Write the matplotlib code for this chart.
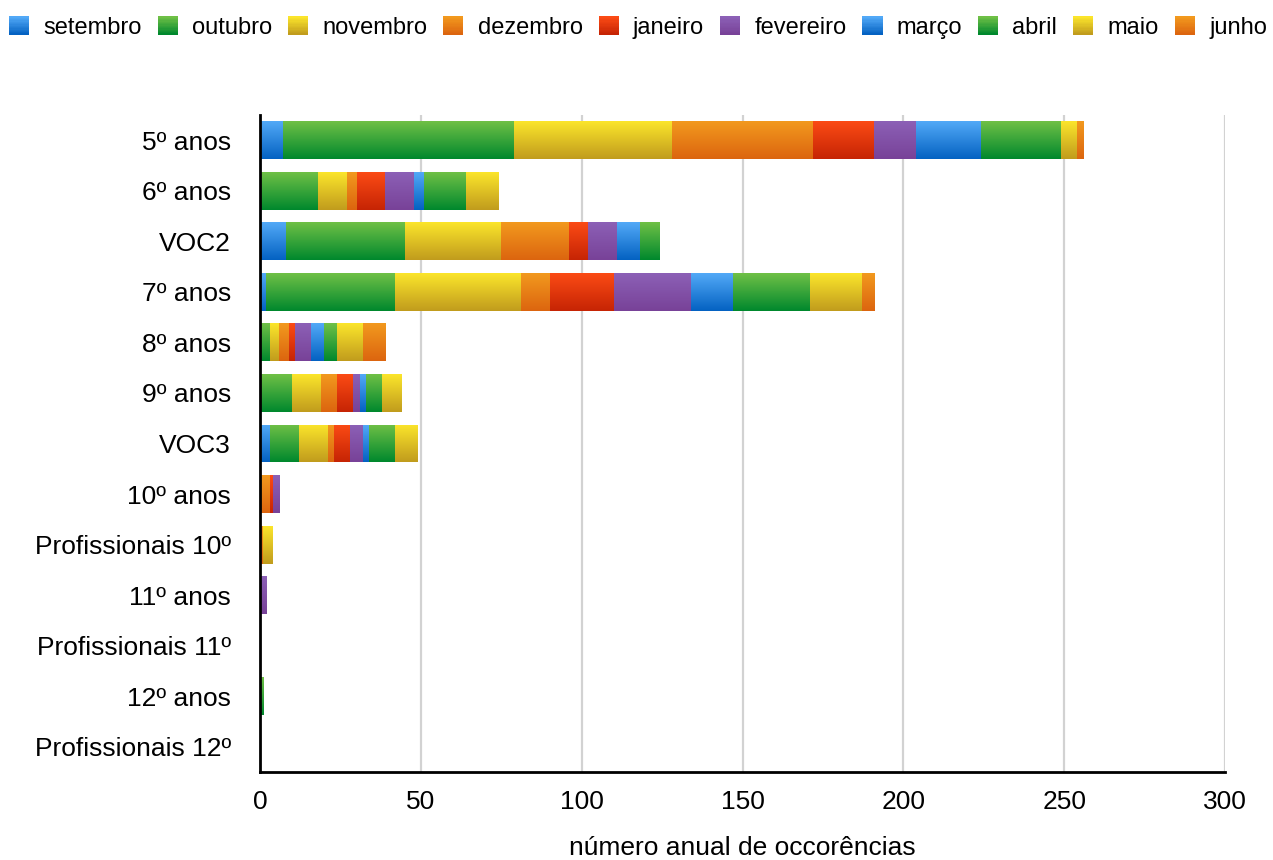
import numpy as np
import matplotlib
matplotlib.use("Agg")
import matplotlib.pyplot as plt
from matplotlib.patches import Rectangle
from matplotlib.legend_handler import HandlerBase
from matplotlib.colors import LinearSegmentedColormap, to_rgb

plt.rcParams['font.family'] = ['Liberation Sans', 'DejaVu Sans']

categories = ["5º anos", "6º anos", "VOC2", "7º anos", "8º anos", "9º anos", "VOC3",
              "10º anos", "Profissionais 10º", "11º anos", "Profissionais 11º",
              "12º anos", "Profissionais 12º"]
months = ["setembro", "outubro", "novembro", "dezembro", "janeiro", "fevereiro",
          "março", "abril", "maio", "junho"]

setembro  = [7, 0, 8, 2, 0, 0, 3, 0, 0, 0, 0, 0, 0]
outubro   = [72, 18, 37, 40, 3, 10, 9, 0, 0, 0, 0, 0, 0]
novembro  = [49, 9, 30, 39, 3, 9, 9, 0, 0, 0, 0, 0, 0]
dezembro  = [44, 3, 21, 9, 3, 5, 2, 3, 1, 0, 0, 0, 0]
janeiro   = [19, 9, 6, 20, 2, 5, 5, 1, 0, 0, 0, 0, 0]
fevereiro = [13, 9, 9, 24, 5, 2, 4, 2, 0, 2, 0, 0, 0]
marco     = [20, 3, 7, 13, 4, 2, 2, 0, 0, 0, 0, 0, 0]
abril     = [25, 13, 6, 24, 4, 5, 8, 0, 0, 0, 0, 1, 0]
maio      = [5, 10, 0, 16, 8, 6, 7, 0, 3, 0, 0, 0, 0]
junho     = [2, 0, 0, 4, 7, 0, 0, 0, 0, 0, 0, 0, 0]

series = [setembro, outubro, novembro, dezembro, janeiro, fevereiro, marco, abril, maio, junho]

blue = ("#52a9f7", "#0462c2")
green = ("#6fc046", "#00882d")
yellow = ("#fbe52b", "#c19c1d")
orange = ("#f2991e", "#dc650f")
red = ("#fb4b15", "#c62404")
purple = ("#8c60b6", "#784298")
month_colors = [blue, green, yellow, orange, red, purple, blue, green, yellow, orange]

fig = plt.figure(figsize=(12.73, 8.60), dpi=100)
ax = fig.add_axes([260/1273, 88/860, 965/1273, 657/860])

y = np.arange(len(categories))
left = np.zeros(len(categories))
grad = np.linspace(0, 1, 64).reshape(-1, 1)
for vals, name, (c0, c1) in zip(series, months, month_colors):
    vals = np.array(vals, dtype=float)
    mid = tuple((np.array(to_rgb(c0)) + np.array(to_rgb(c1))) / 2)
    bars = ax.barh(y, vals, left=left, height=0.75, color=mid, zorder=2, linewidth=0)
    cmap = LinearSegmentedColormap.from_list(name, [c0, c1])
    for b in bars:
        if b.get_width() <= 0:
            continue
        x0, y0 = b.get_xy()
        im = ax.imshow(grad, extent=[x0, x0 + b.get_width(), y0, y0 + b.get_height()],
                       origin='lower', cmap=cmap, aspect='auto', zorder=2.5,
                       interpolation='bilinear')
        im.set_clip_path(b)
    left += vals

ax.set_xlim(0, 300)
ax.set_ylim(len(categories) - 0.5, -0.5)
ax.set_yticks(y)
ax.set_yticklabels(categories, fontsize=19)
ax.set_xticks(np.arange(0, 301, 50))
ax.tick_params(axis='x', labelsize=19, length=0, pad=13)
ax.tick_params(axis='y', length=0, pad=21)
ax.grid(axis='x', color='#d2d2d2', linewidth=1.6, zorder=0)
ax.set_axisbelow(True)
for s in ['top', 'right']:
    ax.spines[s].set_visible(False)
for s in ['left', 'bottom']:
    ax.spines[s].set_linewidth(2)
    ax.spines[s].set_color('black')
    ax.spines[s].set_zorder(5)
ax.set_xlabel("número anual de occorências", fontsize=19, labelpad=16)


class GradHandler(HandlerBase):
    def create_artists(self, legend, orig_handle, xdescent, ydescent, width, height,
                       fontsize, trans):
        c0, c1 = orig_handle
        n = 14
        arts = []
        for i in range(n):
            t = i / (n - 1)
            col = tuple(np.array(to_rgb(c0)) * (1 - t) + np.array(to_rgb(c1)) * t)
            r = Rectangle((-xdescent, -ydescent + height * (1 - (i + 1) / n)), width,
                          height / n + 0.3, facecolor=col, edgecolor='none', transform=trans)
            arts.append(r)
        return arts


handles = [tuple(c) for c in month_colors]
fig.legend(handles, months, handler_map={tuple: GradHandler()}, loc='center',
           bbox_to_anchor=(638/1273, 1 - 28/860), ncol=10, frameon=False, fontsize=17,
           handlelength=0.85, handleheight=0.82, handletextpad=0.6, columnspacing=0.68,
           borderpad=0, borderaxespad=0)

fig.savefig("out.png", dpi=100)
